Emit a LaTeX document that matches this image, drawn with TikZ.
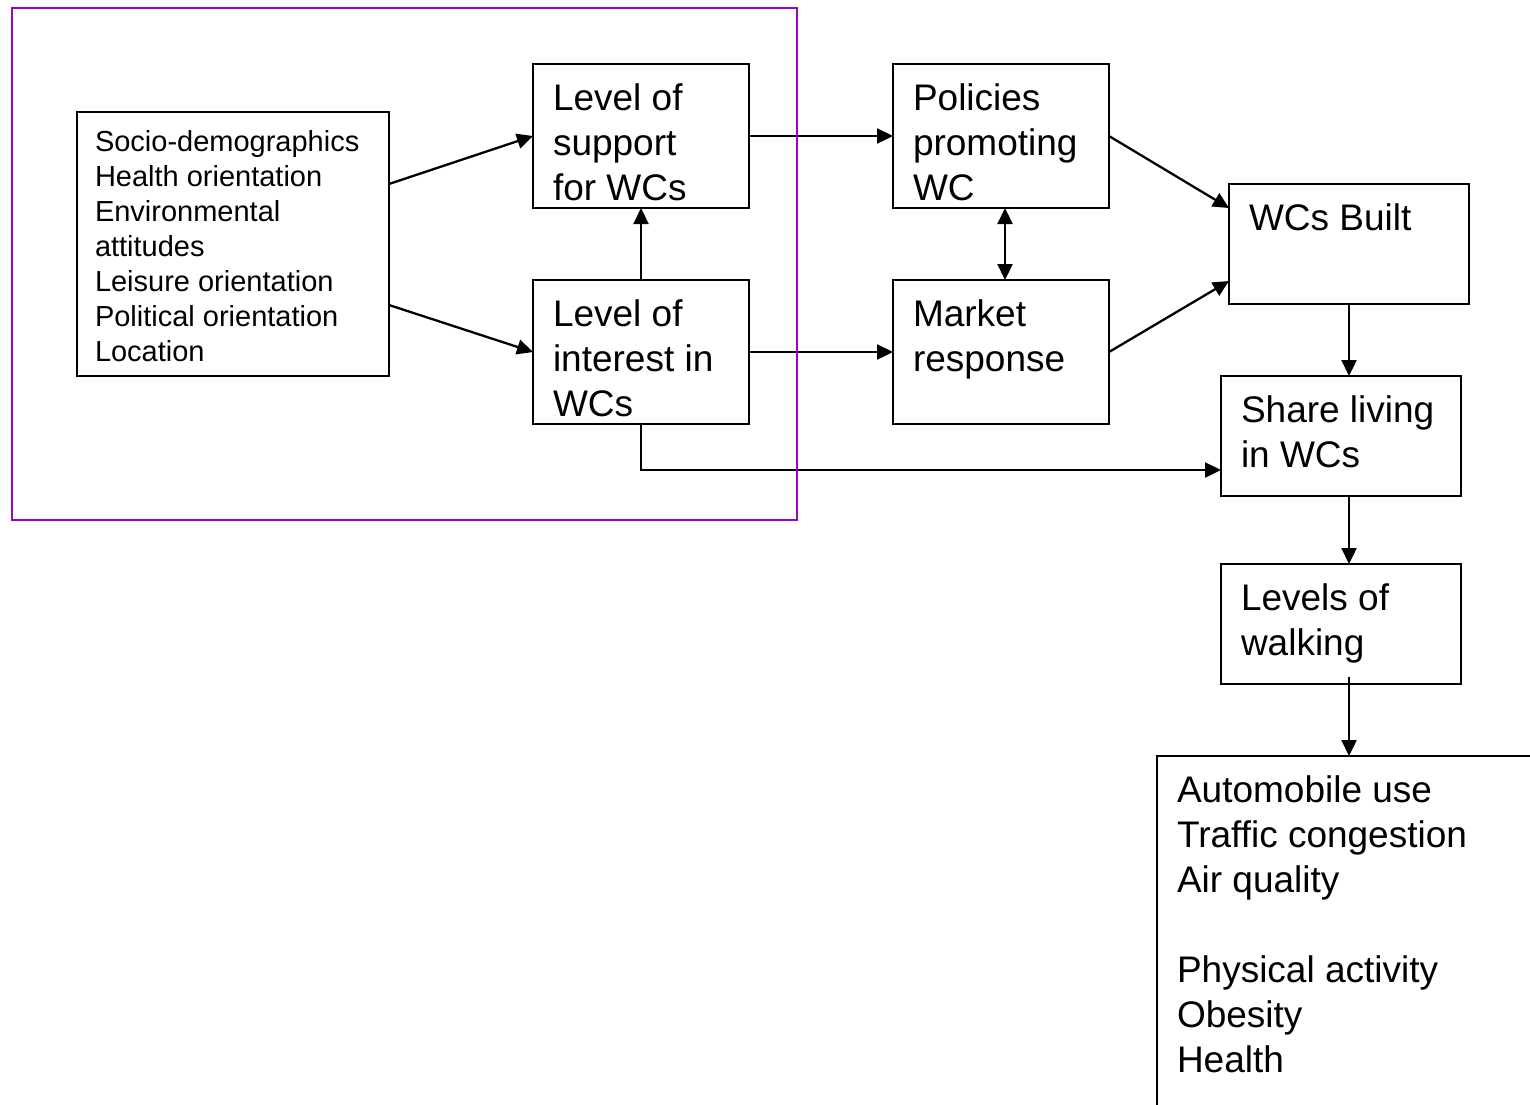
\documentclass[tikz,border=0pt]{standalone}
\usepackage{fontspec}
\setmainfont{Liberation Sans}
\usepackage{tikz}
\usetikzlibrary{positioning, arrows.meta, calc}
\definecolor{frameviolet}{HTML}{9900CC}
\newcommand{\bigtext}{\fontsize{37pt}{45pt}\selectfont}
\newcommand{\smalltext}{\fontsize{29pt}{35pt}\selectfont}
\newcommand{\boxtext}[3]{\parbox[c][#2][t]{#1}{\raggedright #3}}

\begin{document}
\begin{tikzpicture}[
        x = 1pt, y = -1pt,
        node distance = 72pt and 144pt,
        >={Triangle[length=16pt, width=15pt]},
        box/.style   = {draw, line width=2.5pt, rectangle, inner sep=20pt, outer sep=0pt, anchor=north west, font=\bigtext},
        list/.style  = {box, inner sep=18pt, font=\smalltext},
        arrow/.style = {->, line width=2.3pt},
    ]
        \useasboundingbox (0,0) rectangle (1530,1104);
        \clip (0,0) rectangle (1530,1104);

        %---- attitudes side ----
        \node[list] (fac) at (77,112) {\boxtext{276pt}{228pt}{Socio-demographics\\Health orientation\\Environmental\\attitudes\\Leisure orientation\\Political orientation\\Location}};
        \node[box] (supp) at (533,64) {\boxtext{176pt}{104pt}{Level of\\support\\for WCs}};
        \node[box, below=of supp] (int) {\boxtext{176pt}{104pt}{Level of\\interest in\\WCs}};
        \draw[arrow] ([yshift=60pt]fac.east) -- (supp.west);
        \draw[arrow] ([yshift=-61pt]fac.east) -- (int.west);
        \draw[arrow] (int) -- (supp);

        %---- supply side ----
        \node[box, right=of supp] (pol) {\boxtext{176pt}{104pt}{Policies\\promoting\\WC}};
        \node[box, below=of pol] (mkt) {\boxtext{176pt}{104pt}{Market\\response}};
        \draw[arrow] (supp) -- (pol);
        \draw[arrow] (int) -- (mkt);
        \draw[<->, line width=2.3pt] ([xshift=4pt]pol.south) -- ([xshift=4pt]mkt.north);

        %---- outcomes ----
        \node[box] (built) at (1229,184) {\boxtext{200pt}{80pt}{WCs Built}};
        \node[box, below=of built, xshift=-8pt] (share) {\boxtext{200pt}{80pt}{Share living\\in WCs}};
        \node[box, below=68pt of share] (walk) {\boxtext{200pt}{80pt}{Levels of\\walking}};
        \node[box] (out) at (1157,756) {\boxtext{500pt}{500pt}{Automobile use\\Traffic congestion\\Air quality\\[\baselineskip]Physical activity\\Obesity\\Health}};
        \draw[arrow] (pol.east) -- ([yshift=36pt]built.west);
        \draw[arrow] (mkt.east) -- ([yshift=-37pt]built.west);
        \draw[arrow] (built.south) -- (built.south |- share.north);
        \draw[arrow] ([xshift=8pt]share.south) -- ([xshift=8pt]walk.north);
        \draw[arrow] ([xshift=8pt, yshift=7pt]walk.south) -- (out.north -| built.south);
        \draw[arrow] (int.south) |- ([yshift=-34pt]share.west);

        %---- survey frame ----
        \draw[frameviolet, line width=2.5pt] (12,8) rectangle (797,520);
    \end{tikzpicture}
\end{document}
